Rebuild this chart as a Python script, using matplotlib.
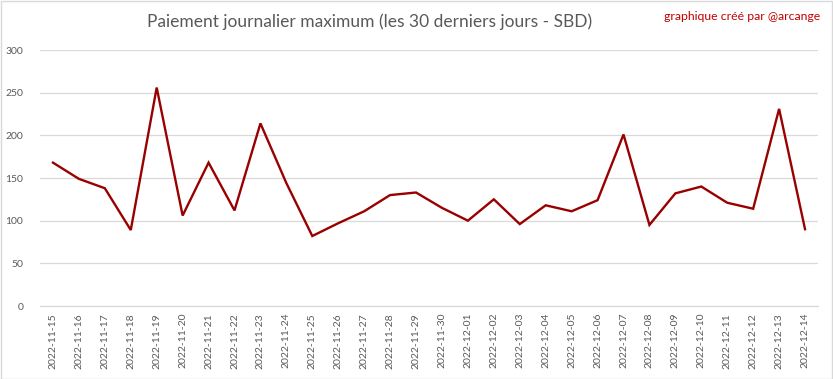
import numpy as np
import matplotlib
matplotlib.use("Agg")
from matplotlib import pyplot as plt
from matplotlib.patches import Rectangle

dates = ["2022-11-15", "2022-11-16", "2022-11-17", "2022-11-18", "2022-11-19",
         "2022-11-20", "2022-11-21", "2022-11-22", "2022-11-23", "2022-11-24",
         "2022-11-25", "2022-11-26", "2022-11-27", "2022-11-28", "2022-11-29",
         "2022-11-30", "2022-12-01", "2022-12-02", "2022-12-03", "2022-12-04",
         "2022-12-05", "2022-12-06", "2022-12-07", "2022-12-08", "2022-12-09",
         "2022-12-10", "2022-12-11", "2022-12-12", "2022-12-13", "2022-12-14"]
payouts = [168, 149, 138, 89, 256, 106, 168, 112, 214, 144,
           82, 97, 111, 130, 133, 115, 100, 125, 96, 118,
           111, 124, 201, 95, 132, 140, 121, 114, 231, 90]
yticks = [0, 50, 100, 150, 200, 250, 300]

plt.rcParams['font.family'] = ['Lato', 'DejaVu Sans']

fig = plt.figure(figsize=(8.33, 3.79), dpi=100)
ax = fig.add_axes([40/833, 73/379, 778/833, 256/379])

x = np.arange(len(dates))
ax.plot(x, payouts, color="#990000", lw=1.7, solid_joinstyle="miter")

ax.set_xlim(-0.5, len(dates) - 0.5)
ax.set_ylim(0, 300)
ax.set_yticks(yticks)
ax.set_xticks(x)
ax.set_xticklabels(dates, rotation=90, fontsize=7.5, color="#595959")
ax.tick_params(axis="y", labelsize=7.5, labelcolor="#595959", length=0, pad=12)
ax.tick_params(axis="x", length=0, pad=5)
ax.grid(axis="y", color="#d9d9d9", lw=0.9)
ax.set_axisbelow(True)
for s in ["top", "right", "left"]:
    ax.spines[s].set_visible(False)
ax.spines["bottom"].set_color("#d9d9d9")
ax.spines["bottom"].set_linewidth(0.9)

fig.text(370/833, 1 - 22/379, "Paiement journalier maximum (les 30 derniers jours - SBD)",
         ha="center", va="center", fontsize=12.5, color="#595959")
fig.text(820/833, 1 - 16/379, "graphique créé par @arcange",
         ha="right", va="center", fontsize=8.8, color="#c00000")

fig.patches.append(Rectangle((0.5/833, 0.5/379), 831.5/833, 377.5/379, transform=fig.transFigure,
                             fill=False, edgecolor="#d9d9d9", lw=1))

fig.savefig("out.png", dpi=100)
